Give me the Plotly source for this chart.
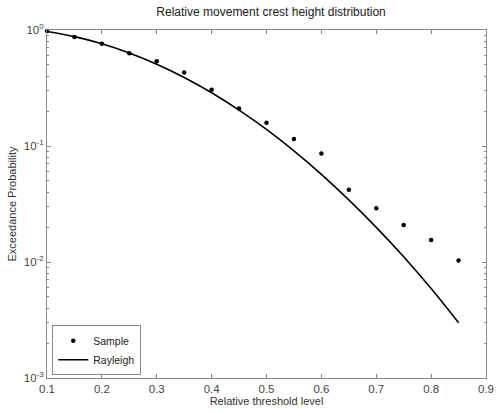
import plotly.graph_objects as go

# Data
x_levels = [0.10, 0.15, 0.20, 0.25, 0.30, 0.35, 0.40, 0.45, 0.50, 0.55, 0.60, 0.65, 0.70, 0.75, 0.80, 0.85]
sample_prob = [0.98, 0.87, 0.76, 0.63, 0.537, 0.43, 0.306, 0.211, 0.159, 0.115, 0.086, 0.042, 0.029, 0.0208, 0.0155, 0.0103]
rayleigh_prob = [0.97, 0.877, 0.761, 0.634, 0.507, 0.390, 0.288, 0.204, 0.139, 0.0908, 0.0570, 0.0343, 0.0199, 0.0111, 0.0059, 0.0030]

x_ticks = [0.1, 0.2, 0.3, 0.4, 0.5, 0.6, 0.7, 0.8, 0.9]
y_tickvals = [1e-3, 1e-2, 1e-1, 1]
y_ticktext = ["10<sup>-3</sup>", "10<sup>-2</sup>", "10<sup>-1</sup>", "10<sup>0</sup>"]
y_minor = [m * d for d in [1e-3, 1e-2, 1e-1] for m in range(2, 10)]

font_family = "Liberation Sans, Arial, sans-serif"
axis_color = "#888888"
text_color = "#333333"

fig = go.Figure()
fig.add_trace(go.Scatter(
    x=x_levels, y=sample_prob, mode="markers", name="Sample",
    marker=dict(color="black", size=4.5, symbol="circle"),
    cliponaxis=False,
))
fig.add_trace(go.Scatter(
    x=x_levels, y=rayleigh_prob, mode="lines", name="Rayleigh",
    line=dict(color="black", width=1.6, shape="spline", smoothing=0.8),
))

fig.update_layout(
    width=502, height=413,
    margin=dict(l=47, r=8, t=30, b=35),
    paper_bgcolor="white", plot_bgcolor="white",
    font=dict(family=font_family, size=11, color=text_color),
    title=dict(text="Relative movement crest height distribution",
               x=0.54, xanchor="center", y=0.982, yanchor="top",
               font=dict(size=12, color="#222222")),
    showlegend=True,
    legend=dict(x=0.012, y=0.008, xanchor="left", yanchor="bottom",
                bgcolor="white", bordercolor=axis_color, borderwidth=1,
                font=dict(size=10.5, color="#222222"),
                tracegroupgap=0, itemwidth=30),
)

fig.update_xaxes(
    range=[0.1, 0.9], tickvals=x_ticks, ticktext=[f"{v:g}" for v in x_ticks],
    showgrid=False, zeroline=False,
    showline=True, linecolor=axis_color, linewidth=1, mirror="ticks",
    ticks="inside", ticklen=4, tickcolor=axis_color,
    title=dict(text="Relative threshold level", standoff=2, font=dict(size=11)),
    tickfont=dict(size=11.5, color="#444444"),
)
fig.update_yaxes(
    type="log", range=[-3, 0], tickvals=y_tickvals, ticktext=y_ticktext,
    showgrid=False, zeroline=False,
    showline=True, linecolor=axis_color, linewidth=1, mirror="ticks",
    ticks="inside", ticklen=4, tickcolor=axis_color,
    minor=dict(tickmode="array", tickvals=y_minor, ticks="inside", ticklen=2,
               tickcolor=axis_color, showgrid=False),
    title=dict(text="Exceedance Probability", standoff=4, font=dict(size=11)),
    tickfont=dict(size=11.5, color="#444444"),
)

fig.write_html("out.html")
